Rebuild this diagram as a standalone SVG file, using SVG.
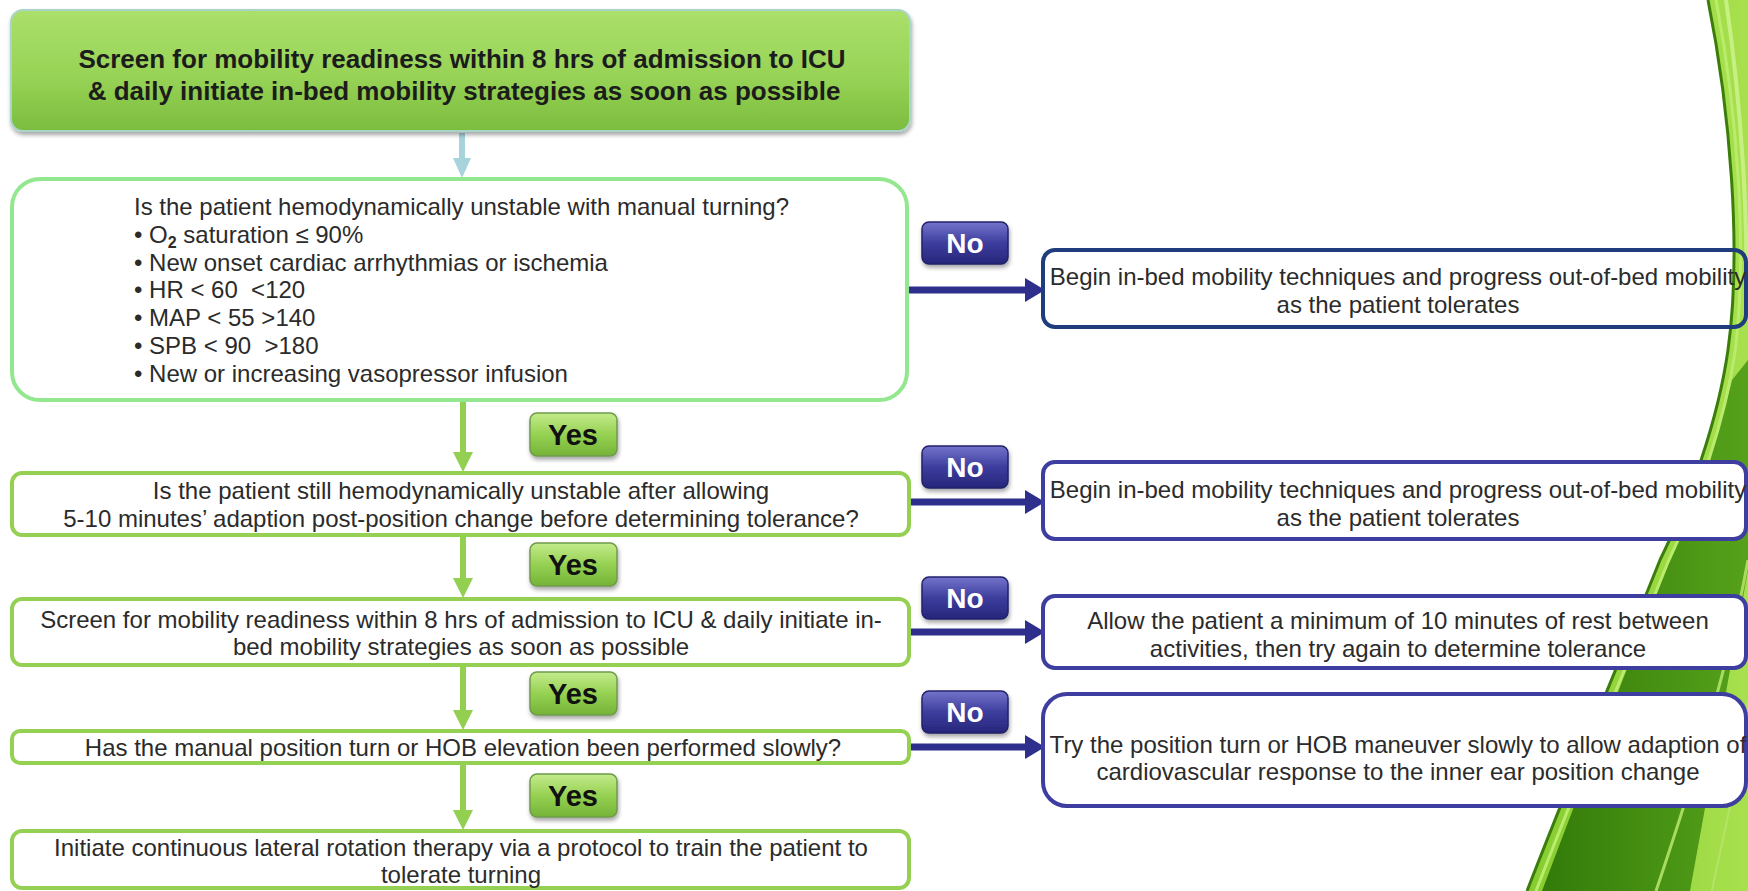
<svg xmlns="http://www.w3.org/2000/svg" width="1748" height="891" viewBox="0 0 1748 891">
  <style>
    .t { font-family: 'Liberation Sans', Arial, sans-serif; font-size: 24px; fill: #2b2b2b; }
    .c { text-anchor: middle; }
    .title { font-family: 'Liberation Sans', Arial, sans-serif; font-size: 26px; font-weight: bold; fill: #1c1c1c; text-anchor: middle; }
    .pre { white-space: pre; }
    .qbox { fill: #ffffff; stroke: #94d051; stroke-width: 4; }
    .abox { fill: #ffffff; stroke: #3e3ea0; stroke-width: 4; }
    .yes rect { fill: url(#gYes); stroke: #6f9a4c; stroke-width: 1.5; }
    .yes text { font-family: 'Liberation Sans', Arial, sans-serif; font-size: 29px; font-weight: bold; fill: #111111; text-anchor: middle; }
    .no rect { fill: url(#gNo); stroke: #22226a; stroke-width: 1.5; }
    .no text { font-family: 'Liberation Sans', Arial, sans-serif; font-size: 28px; font-weight: bold; fill: #ffffff; text-anchor: middle; }
    .gline { stroke: #93cf50; stroke-width: 6; fill: none; marker-end: url(#mGreen); }
    .bline { stroke: #2e2e8c; stroke-width: 7; fill: none; marker-end: url(#mBlue); }
  </style>
  <defs>
    <linearGradient id="gTitle" x1="0" y1="0" x2="0" y2="1">
      <stop offset="0" stop-color="#abe06a"/>
      <stop offset="0.55" stop-color="#97d356"/>
      <stop offset="1" stop-color="#7cbc3e"/>
    </linearGradient>
    <linearGradient id="gYes" x1="0" y1="0" x2="0" y2="1">
      <stop offset="0" stop-color="#c4eb8c"/>
      <stop offset="0.5" stop-color="#96d152"/>
      <stop offset="1" stop-color="#74b338"/>
    </linearGradient>
    <linearGradient id="gNo" x1="0" y1="0" x2="0" y2="1">
      <stop offset="0" stop-color="#7474cc"/>
      <stop offset="0.5" stop-color="#3d3d9e"/>
      <stop offset="1" stop-color="#26267a"/>
    </linearGradient>
    <linearGradient id="gSwoosh" x1="0" y1="0" x2="1" y2="0">
      <stop offset="0" stop-color="#86cc30"/>
      <stop offset="1" stop-color="#a8e04e"/>
    </linearGradient>
    <linearGradient id="gDark" x1="0" y1="0" x2="1" y2="0">
      <stop offset="0" stop-color="#2c7406"/>
      <stop offset="1" stop-color="#4f9c16"/>
    </linearGradient>
    <filter id="shadow" x="-5%" y="-10%" width="110%" height="135%">
      <feDropShadow dx="1" dy="3" stdDeviation="2" flood-color="#000000" flood-opacity="0.35"/>
    </filter>
    <marker id="mGreen" markerUnits="userSpaceOnUse" viewBox="0 0 20 20" markerWidth="20" markerHeight="20" refX="6" refY="10" orient="auto">
      <path d="M0,0 L20,10 L0,20 Z" fill="#93cf50"/>
    </marker>
    <marker id="mBlue" markerUnits="userSpaceOnUse" viewBox="0 0 20 24" markerWidth="20" markerHeight="24" refX="6" refY="12" orient="auto">
      <path d="M0,0 L20,12 L0,24 Z" fill="#2e2e8c"/>
    </marker>
    <marker id="mLight" markerUnits="userSpaceOnUse" viewBox="0 0 20 18" markerWidth="20" markerHeight="18" refX="6" refY="9" orient="auto">
      <path d="M0,0 L20,9 L0,18 Z" fill="#a6d3dc"/>
    </marker>
  </defs>

  <rect width="1748" height="891" fill="#ffffff"/>

  <!-- decorative green swoosh on the right edge -->
  <g id="swoosh">
    <path d="M1708,0 C1730,110 1742,250 1728,350 C1718,420 1690,500 1660,560 C1620,660 1570,780 1527,891 L1748,891 L1748,0 Z" fill="url(#gSwoosh)"/>
    <path d="M1732,380 C1718,440 1694,505 1668,565 C1628,665 1582,785 1542,891 L1690,891 C1710,780 1734,650 1748,570 L1748,360 Z" fill="url(#gDark)" opacity="0.92"/>
    <path d="M1708,0 C1730,110 1742,250 1728,350 C1718,420 1690,500 1660,560 C1620,660 1570,780 1527,891" fill="none" stroke="#3b7d0a" stroke-width="3"/>
    <path d="M1716,0 C1737,110 1748,250 1735,352 C1725,420 1698,500 1668,562 C1628,662 1578,782 1536,891" fill="none" stroke="#b9ec6c" stroke-width="3"/>
    <path d="M1726,0 C1742,110 1748,220 1746,300" fill="none" stroke="#c7f083" stroke-width="4"/>
    <path d="M1748,560 C1728,670 1690,790 1656,891" fill="none" stroke="#a8dc5e" stroke-width="3"/>
    <path d="M1748,700 C1738,780 1722,840 1712,891" fill="none" stroke="#b5e36a" stroke-width="2"/>
  </g>

  <!-- connectors -->
  <g id="connectors">
    <path d="M462,133 L462,164" fill="none" stroke="#a6d3dc" stroke-width="6" marker-end="url(#mLight)"/>
    <path class="gline" d="M463,401 L463,458"/>
    <path class="gline" d="M463,536 L463,584"/>
    <path class="gline" d="M463,666 L463,716"/>
    <path class="gline" d="M463,764 L463,816"/>
    <path class="bline" d="M909,290 L1031,290"/>
    <path class="bline" d="M910,502 L1031,502"/>
    <path class="bline" d="M910,632 L1031,632"/>
    <path class="bline" d="M910,747 L1031,747"/>
  </g>

  <!-- start node -->
  <g id="start">
    <rect x="11" y="10" width="899" height="121" rx="12" fill="url(#gTitle)" stroke="#a8d5c8" stroke-width="2" filter="url(#shadow)"/>
    <text class="title" x="462" y="68">Screen for mobility readiness within 8 hrs of admission to ICU</text>
    <text class="title" x="464" y="100">&amp; daily initiate in-bed mobility strategies as soon as possible</text>
  </g>

  <!-- decision: unstable with manual turning -->
  <g id="q1">
    <rect x="12" y="179" width="895" height="221" rx="28" fill="#ffffff" stroke="#93e88f" stroke-width="4"/>
    <text class="t" x="134" y="215">Is the patient hemodynamically unstable with manual turning?</text>
    <text class="t" x="134" y="243">• O<tspan font-size="16" font-weight="bold" dy="5">2</tspan><tspan dy="-5"> saturation ≤ 90%</tspan></text>
    <text class="t" x="134" y="271">• New onset cardiac arrhythmias or ischemia</text>
    <text class="t pre" x="134" y="298">• HR &lt; 60  &lt;120</text>
    <text class="t pre" x="134" y="326">• MAP &lt; 55 &gt;140</text>
    <text class="t pre" x="134" y="354">• SPB &lt; 90  &gt;180</text>
    <text class="t" x="134" y="382">• New or increasing vasopressor infusion</text>
  </g>

  <g id="q2">
    <rect class="qbox" x="12" y="473" width="897" height="62" rx="10"/>
    <text class="t c" x="461" y="499">Is the patient still hemodynamically unstable after allowing</text>
    <text class="t c" x="461" y="527">5-10 minutes’ adaption post-position change before determining tolerance?</text>
  </g>

  <g id="q3">
    <rect class="qbox" x="12" y="599" width="897" height="66" rx="10"/>
    <text class="t c" x="461" y="628">Screen for mobility readiness within 8 hrs of admission to ICU &amp; daily initiate in-</text>
    <text class="t c" x="461" y="655">bed mobility strategies as soon as possible</text>
  </g>

  <g id="q4">
    <rect class="qbox" x="12" y="731" width="897" height="32" rx="8"/>
    <text class="t c" x="463" y="756">Has the manual position turn or HOB elevation been performed slowly?</text>
  </g>

  <g id="end">
    <rect class="qbox" x="12" y="831" width="897" height="57" rx="10"/>
    <text class="t c" x="461" y="856">Initiate continuous lateral rotation therapy via a protocol to train the patient to</text>
    <text class="t c" x="461" y="883">tolerate turning</text>
  </g>

  <!-- outcomes on the "No" branches -->
  <g id="a1">
    <rect x="1043" y="250" width="703" height="77" rx="12" fill="none" stroke="#1f3d7c" stroke-width="4"/>
    <text class="t c" x="1398" y="285">Begin in-bed mobility techniques and progress out-of-bed mobility</text>
    <text class="t c" x="1398" y="313">as the patient tolerates</text>
  </g>

  <g id="a2">
    <rect class="abox" x="1043" y="462" width="703" height="77" rx="12"/>
    <text class="t c" x="1398" y="498">Begin in-bed mobility techniques and progress out-of-bed mobility</text>
    <text class="t c" x="1398" y="526">as the patient tolerates</text>
  </g>

  <g id="a3">
    <rect class="abox" x="1043" y="596" width="703" height="72" rx="12"/>
    <text class="t c" x="1398" y="629">Allow the patient a minimum of 10 minutes of rest between</text>
    <text class="t c" x="1398" y="657">activities, then try again to determine tolerance</text>
  </g>

  <g id="a4">
    <rect class="abox" x="1043" y="694" width="703" height="112" rx="24"/>
    <text class="t c" x="1398" y="753">Try the position turn or HOB maneuver slowly to allow adaption of</text>
    <text class="t c" x="1398" y="780">cardiovascular response to the inner ear position change</text>
  </g>

  <!-- branch labels -->
  <g id="yes1" class="yes"><rect x="530" y="413" width="87" height="43" rx="7" filter="url(#shadow)"/><text x="573" y="445">Yes</text></g>
  <g id="yes2" class="yes"><rect x="530" y="543" width="87" height="43" rx="7" filter="url(#shadow)"/><text x="573" y="575">Yes</text></g>
  <g id="yes3" class="yes"><rect x="530" y="672" width="87" height="43" rx="7" filter="url(#shadow)"/><text x="573" y="704">Yes</text></g>
  <g id="yes4" class="yes"><rect x="530" y="774" width="87" height="43" rx="7" filter="url(#shadow)"/><text x="573" y="806">Yes</text></g>

  <g id="no1" class="no"><rect x="922" y="222" width="86" height="42" rx="7" filter="url(#shadow)"/><text x="965" y="253">No</text></g>
  <g id="no2" class="no"><rect x="922" y="446" width="86" height="42" rx="7" filter="url(#shadow)"/><text x="965" y="477">No</text></g>
  <g id="no3" class="no"><rect x="922" y="577" width="86" height="42" rx="7" filter="url(#shadow)"/><text x="965" y="608">No</text></g>
  <g id="no4" class="no"><rect x="922" y="691" width="86" height="42" rx="7" filter="url(#shadow)"/><text x="965" y="722">No</text></g>
</svg>
